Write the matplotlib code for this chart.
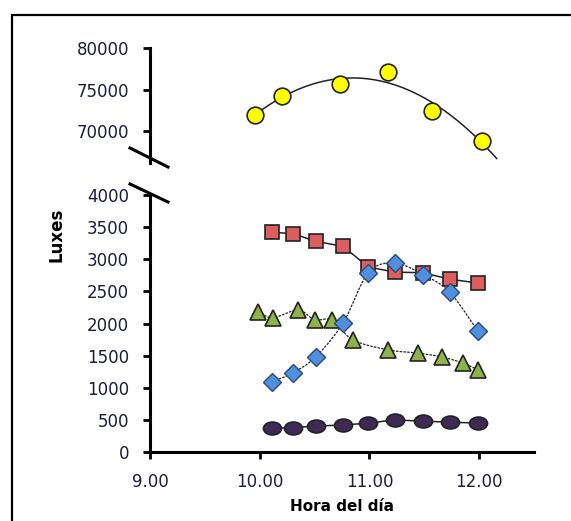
import numpy as np
import matplotlib
matplotlib.use("Agg")
import matplotlib.pyplot as plt
from matplotlib.lines import Line2D
from matplotlib.patches import Rectangle
from matplotlib.path import Path

# Hora del dia (decimal hours) and luxes per series
x_yellow = [9.96, 10.20, 10.73, 11.17, 11.57, 12.03]
y_yellow = [72000, 74200, 75650, 77100, 72500, 68800]

x_main = [10.11, 10.30, 10.51, 10.76, 10.99, 11.23, 11.49, 11.73, 11.99]
y_red = [3420, 3400, 3280, 3200, 2880, 2800, 2790, 2690, 2630]
y_blue = [1090, 1230, 1480, 2010, 2790, 2940, 2760, 2490, 1880]
y_purple = [375, 375, 405, 420, 450, 500, 480, 465, 450]

x_green = [9.98, 10.12, 10.35, 10.50, 10.66, 10.85, 11.17, 11.44, 11.66, 11.85, 11.99]
y_green = [2180, 2090, 2210, 2060, 2050, 1745, 1590, 1540, 1480, 1385, 1280]

upper_ticks = [70000, 75000, 80000]
lower_ticks = list(range(0, 4001, 500))
x_ticks = [9, 10, 11, 12]


def smooth(xs, ys, n=20):
    # Catmull-Rom style curve through the points (like a smoothed line)
    xs = np.asarray(xs, float)
    ys = np.asarray(ys, float)
    px = np.concatenate([[2 * xs[0] - xs[1]], xs, [2 * xs[-1] - xs[-2]]])
    py = np.concatenate([[2 * ys[0] - ys[1]], ys, [2 * ys[-1] - ys[-2]]])
    t = np.linspace(0, 1, n)[:, None]
    out_x, out_y = [], []
    for i in range(1, len(px) - 2):
        for p, out in ((px, out_x), (py, out_y)):
            p0, p1, p2, p3 = p[i - 1], p[i], p[i + 1], p[i + 2]
            c = 0.5 * ((2 * p1) + (-p0 + p2) * t + (2 * p0 - 5 * p1 + 4 * p2 - p3) * t ** 2
                       + (-p0 + 3 * p1 - 3 * p2 + p3) * t ** 3)
            out.extend(c.ravel())
    return out_x, out_y


tick_color = "#1c1c3c"
plt.rcParams["font.family"] = "DejaVu Sans"

fig = plt.figure(figsize=(5.71, 5.21), dpi=100)
ax_top = fig.add_axes([0.2627, 0.687, 0.6725, 0.221])
ax = fig.add_axes([0.2627, 0.1324, 0.6725, 0.4933])

for a in (ax, ax_top):
    a.set_xlim(9, 12.5)
    for s in ("top", "right"):
        a.spines[s].set_visible(False)
    a.spines["left"].set_linewidth(2.2)
    a.spines["bottom"].set_linewidth(2.2)
    a.tick_params(width=2, length=5, pad=10, labelsize=12, labelcolor=tick_color)
    a.patch.set_alpha(0)

ax_top.spines["bottom"].set_visible(False)
ax_top.set_xticks([])
ax_top.set_ylim(66200, 80000)
ax_top.set_yticks(upper_ticks)

ax.set_ylim(0, 4000)
ax.set_yticks(lower_ticks)
ax.set_xticks(x_ticks)
ax.set_xticklabels([f"{v:.2f}" for v in x_ticks])

# yellow: 2nd order trend line
coef = np.polyfit(x_yellow, y_yellow, 2)
xt = np.linspace(min(x_yellow), max(x_yellow) + 0.13, 100)
ax_top.plot(xt, np.polyval(coef, xt), color="#222222", lw=1.1, zorder=2)
ax_top.plot(x_yellow, y_yellow, "o", ms=12, mfc="#ffff00", mec="#222222", mew=1.2,
            ls="none", zorder=3)

# purple ellipse marker
ell = Path.unit_circle().transformed(matplotlib.transforms.Affine2D().scale(1.4, 1.0))

sx, sy = smooth(x_main, y_blue)
ax.plot(sx, sy, color="#222222", lw=0.9, ls=(0, (2, 1)), zorder=2)
sx, sy = smooth(x_green, y_green)
ax.plot(sx, sy, color="#222222", lw=0.9, ls=(0, (2, 1)), zorder=2)
ax.plot(x_main, y_red, color="#222222", lw=1.1, zorder=2)
ax.plot(x_main, y_purple, color="#222222", lw=1.1, zorder=2)

ax.plot(x_main, y_red, "s", ms=10, mfc="#db5f5f", mec="#222222", mew=1.2, ls="none", zorder=3)
ax.plot(x_green, y_green, "^", ms=11, mfc="#8db34a", mec="#222222", mew=1.2, ls="none", zorder=3)
ax.plot(x_main, y_blue, "D", ms=9.5, mfc="#4f8fdd", mec="#2a4a7a", mew=1.0, ls="none", zorder=4)
ax.plot(x_main, y_purple, marker=ell, ms=13, mfc="#3d2b56", mec="#222222", mew=1.2, ls="none", zorder=3)

ax.set_xlabel("Hora del día", fontsize=11, fontweight="bold", labelpad=6)
fig.text(57 / 571, 1 - 235 / 521, "Luxes", rotation=90, ha="center", va="center",
         fontsize=12, fontweight="bold")

# axis break marks
for y0, y1 in ((148, 167), (184, 202)):
    fig.add_artist(Line2D([130 / 571, 168 / 571], [1 - y0 / 521, 1 - y1 / 521],
                          color="black", lw=2.2))

# outer chart border
fig.add_artist(Rectangle((12 / 571, -0.05), 1.1, 1 - 15 / 521 + 0.05, fill=False,
                         edgecolor="black", lw=1.6, transform=fig.transFigure))

fig.savefig("out.png", dpi=100)
